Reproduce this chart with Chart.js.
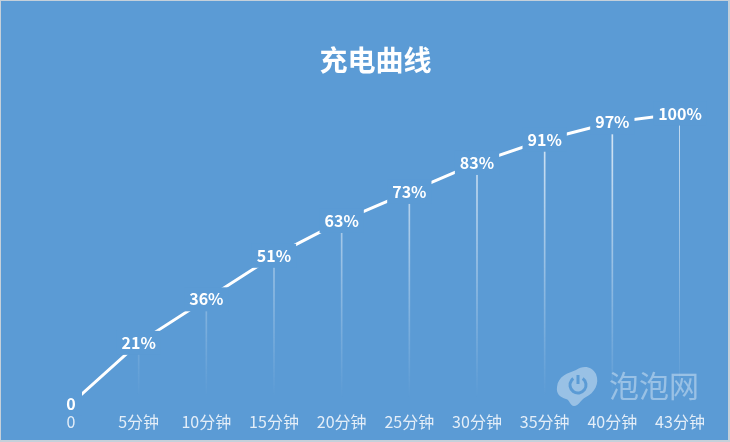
<!DOCTYPE html>
<html>
<head>
    <title>充电曲线</title>
    <meta charset="utf-8">
    <style>
        html, body { margin: 0; padding: 0; background: #5b9bd5; }
        .wrap { position: relative; width: 730px; height: 442px; overflow: hidden; }
        .wrap:after { content: ''; position: absolute; left: 0; top: 0; right: 0; bottom: 0; border: 1px solid #c5d0da; border-right-width: 2px; border-bottom-width: 2px; }
    </style>
</head>
<body>
    <div class="wrap"><canvas id="chart" width="730" height="442"></canvas></div>

    <script src="https://cdn.jsdelivr.net/npm/chart.js"></script>
    <script>
        var bgColor = '#5b9bd5';
        var fontName = '"Noto Sans CJK SC", "Noto Sans", sans-serif';

        // 数据
        var categories = ['0', '5分钟', '10分钟', '15分钟', '20分钟', '25分钟', '30分钟', '35分钟', '40分钟', '43分钟'];
        var charge = [0, 21, 36, 51, 63, 73, 83, 91, 97, 100];
        var valueLabels = ['0', '21%', '36%', '51%', '63%', '73%', '83%', '91%', '97%', '100%'];

        // 竖线渐变,越往下越透明
        function dropGradient(context) {
            var area = context.chart.chartArea;
            if (!area) return 'rgba(255,255,255,0.5)';
            var g = context.chart.ctx.createLinearGradient(0, area.top, 0, area.bottom);
            g.addColorStop(0, 'rgba(255,255,255,0.8)');
            g.addColorStop(0.98, 'rgba(255,255,255,0)');
            return g;
        }

        // 数据标签,底色盖住折线形成断口
        var labelPlugin = {
            id: 'valueLabels',
            afterDatasetsDraw: function(chart) {
                var ctx = chart.ctx;
                var pts = chart.getDatasetMeta(1).data;
                ctx.save();
                ctx.font = 'bold 16px ' + fontName;
                ctx.textAlign = 'center';
                ctx.textBaseline = 'middle';
                pts.forEach(function(p, i) {
                    var w = ctx.measureText(valueLabels[i]).width;
                    var hw = Math.max(w / 2 + 5, 11);
                    ctx.fillStyle = bgColor;
                    ctx.fillRect(p.x - hw, p.y - 12, hw * 2, 24);
                });
                ctx.fillStyle = '#ffffff';
                pts.forEach(function(p, i) {
                    ctx.fillText(valueLabels[i], p.x, p.y);
                });
                ctx.restore();
            }
        };

        // 右下角水印
        var watermarkPlugin = {
            id: 'watermark',
            afterDraw: function(chart) {
                var ctx = chart.ctx;
                ctx.save();
                ctx.fillStyle = 'rgba(255,255,255,0.38)';
                ctx.beginPath();
                ctx.moveTo(557, 387);
                ctx.bezierCurveTo(558, 376, 568, 373, 576, 370);
                ctx.bezierCurveTo(583, 365, 592, 366, 596, 374);
                ctx.bezierCurveTo(600, 384, 594, 393, 586, 397);
                ctx.bezierCurveTo(580, 400, 579, 406, 574, 406);
                ctx.bezierCurveTo(570, 406, 570, 400, 566, 399);
                ctx.bezierCurveTo(560, 397, 556, 394, 557, 387);
                ctx.fill();
                ctx.strokeStyle = bgColor;
                ctx.lineWidth = 3;
                ctx.beginPath();
                ctx.arc(578, 385, 8, -Math.PI * 0.3, Math.PI * 1.3);
                ctx.stroke();
                ctx.beginPath();
                ctx.moveTo(578, 375);
                ctx.lineTo(578, 384);
                ctx.stroke();
                ctx.font = '30px ' + fontName;
                ctx.textAlign = 'left';
                ctx.textBaseline = 'middle';
                ctx.fillText('泡泡网', 609, 386);
                ctx.restore();
            }
        };

        var myChart = new Chart(document.getElementById('chart').getContext('2d'), {
            data: {
                labels: categories,
                datasets: [{
                    type: 'bar',
                    data: charge,
                    barThickness: 1,
                    backgroundColor: dropGradient,
                    order: 2
                }, {
                    type: 'line',
                    data: charge,
                    borderColor: '#ffffff',
                    borderWidth: 3,
                    tension: 0,
                    pointRadius: 0,
                    order: 1
                }]
            },
            options: {
                responsive: false,
                animation: false,
                layout: { padding: { left: 71, right: 50, top: 0, bottom: 9 } },
                plugins: {
                    legend: { display: false },
                    tooltip: { enabled: false },
                    title: {
                        display: true,
                        text: '充电曲线',
                        color: '#ffffff',
                        font: { family: fontName, size: 28, weight: 'bold' },
                        padding: { top: 44, bottom: 36 }
                    }
                },
                scales: {
                    x: {
                        offset: false,
                        grid: { display: false },
                        border: { display: false },
                        ticks: {
                            color: '#e4eef8',
                            font: { family: fontName, size: 16 },
                            maxRotation: 0,
                            autoSkip: false,
                            padding: 1
                        },
                        afterFit: function(scale) {
                            scale.paddingLeft = 0;
                            scale.paddingRight = 0;
                        }
                    },
                    y: { display: false, min: 0, max: 100 }
                }
            },
            plugins: [labelPlugin, watermarkPlugin]
        });
    </script>
</body>
</html>
